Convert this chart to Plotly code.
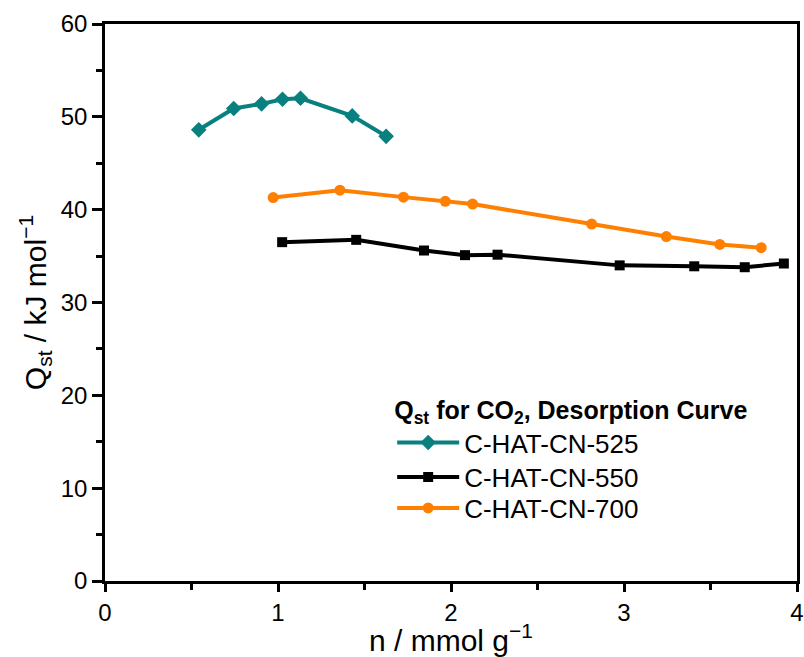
import plotly.graph_objects as go

# C-HAT-CN-525
x525 = [0.542, 0.744, 0.905, 1.026, 1.130, 1.429, 1.625]
y525 = [48.6, 50.9, 51.4, 51.9, 52.0, 50.1, 47.9]
# C-HAT-CN-550
x550 = [1.024, 1.452, 1.844, 2.081, 2.269, 2.975, 3.406, 3.698, 3.924]
y550 = [36.5, 36.75, 35.6, 35.1, 35.15, 34.0, 33.9, 33.8, 34.2]
# C-HAT-CN-700
x700 = [0.972, 1.358, 1.725, 1.967, 2.125, 2.813, 3.245, 3.554, 3.793]
y700 = [41.3, 42.1, 41.35, 40.9, 40.6, 38.45, 37.1, 36.25, 35.9]

names = ["C-HAT-CN-525", "C-HAT-CN-550", "C-HAT-CN-700"]
colors = ["#088080", "#000000", "#FF8000"]
symbols = ["diamond", "square", "circle"]
sizes = [12, 10, 11]
legends = ["legend", "legend2", "legend3"]

FONT = "Liberation Sans, Arial, sans-serif"

fig = go.Figure()
for xs, ys, n, c, s, sz, lg in zip([x525, x550, x700], [y525, y550, y700], names, colors, symbols, sizes, legends):
    fig.add_trace(go.Scatter(
        x=xs, y=ys, name=n, mode="lines+markers",
        line=dict(color=c, width=4),
        marker=dict(color=c, symbol=s, size=sz),
        legend=lg, showlegend=True,
    ))

axis_common = dict(
    showgrid=False, zeroline=False, showline=True, linecolor="black", linewidth=2.5,
    mirror=True, ticks="outside", tickwidth=2.5, tickcolor="black",
    tickfont=dict(family=FONT, size=24, color="black"),
    minor=dict(ticks="outside", ticklen=6, tickwidth=2.5, tickcolor="black"),
    automargin=False,
)

fig.update_xaxes(range=[0, 4], dtick=1, minor_dtick=0.5, ticklen=8,
                 title=dict(text="n / mmol g<sup>−1</sup>", font=dict(family=FONT, size=30, color="black"), standoff=5),
                 **axis_common)
fig.update_yaxes(range=[0, 60], dtick=10, minor_dtick=5, ticklen=10,
                 title=dict(text="Q<sub>st</sub> / kJ mol<sup>−1</sup>", font=dict(family=FONT, size=30, color="black"), standoff=6),
                 **axis_common)

leg_common = dict(
    x=0.415, xanchor="left", bgcolor="rgba(0,0,0,0)",
    font=dict(family=FONT, size=26, color="black"), itemwidth=62,
)

fig.update_layout(
    width=804, height=657,
    margin=dict(l=105, r=7, t=24, b=76),
    paper_bgcolor="white", plot_bgcolor="white",
    font=dict(family=FONT, color="black"),
    showlegend=True,
    legend=dict(
        y=0.349, yanchor="top",
        title=dict(text="<b>Q<sub>st</sub> for CO<sub>2</sub>, Desorption Curve</b>",
                   font=dict(family=FONT, size=25, color="black"), side="top"),
        **leg_common,
    ),
    legend2=dict(y=0.1867, yanchor="middle", **leg_common),
    legend3=dict(y=0.131, yanchor="middle", **leg_common),
)

fig.write_html("out.html", config={"displayModeBar": False},
               post_script="document.body.style.margin='0';")
